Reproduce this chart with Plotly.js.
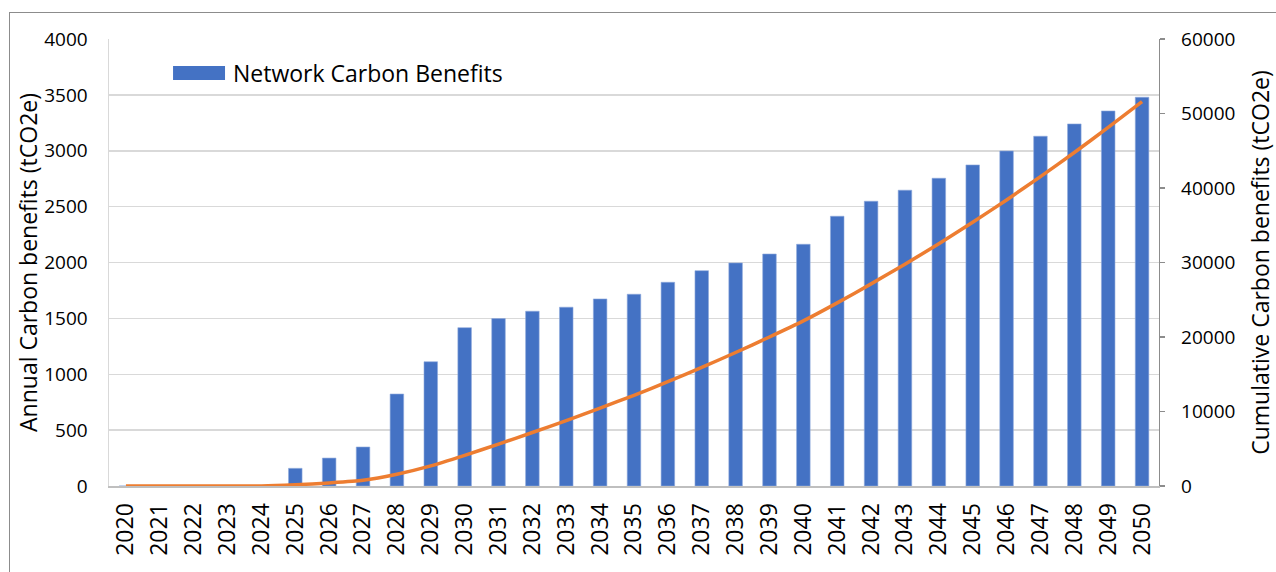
<!DOCTYPE html>
<html>
<head>
<meta charset="utf-8">
<script src="https://cdn.plot.ly/plotly-3.0.1.min.js"></script>
<style>
  html, body { margin: 0; padding: 0; background: #fff; overflow: hidden; }
  #chart { position: absolute; left: 0; top: 0; width: 1276px; height: 572px; }
  #frame { position: absolute; left: 9px; top: 12px; width: 1400px; height: 700px; border: 1px solid #8c8c8c; pointer-events: none; }
</style>
</head>
<body>
<div id="chart"></div>
<div id="frame"></div>
<script>
const years = ['2020','2021','2022','2023','2024','2025','2026','2027','2028','2029','2030',
  '2031','2032','2033','2034','2035','2036','2037','2038','2039','2040',
  '2041','2042','2043','2044','2045','2046','2047','2048','2049','2050'];
const annualBenefits = [0,0,0,0,0,158,250,349,823,1112,1417,
  1498,1564,1600,1674,1716,1823,1927,1996,2076,2163,
  2414,2548,2647,2754,2873,2998,3130,3240,3356,3479];
const cumulativeBenefits = [0,0,0,0,0,160,410,760,1580,2700,4120,
  5620,7180,8780,10460,12170,14000,15920,17920,20000,22160,
  24580,27130,29780,32530,35400,38400,41530,44770,48130,51600];
const seriesName = 'Network Carbon Benefits';
const leftTitle = 'Annual Carbon benefits (tCO2e)';
const rightTitle = 'Cumulative Carbon benefits (tCO2e)';

const FONT = 'Open Sans, Noto Sans, sans-serif';

const traces = [
  {
    type: 'bar', x: years, y: annualBenefits, name: seriesName,
    marker: { color: '#4472C4', line: { color: '#8fa9dc', width: 0.6 } },
    yaxis: 'y', showlegend: false, hoverinfo: 'x+y'
  },
  {
    type: 'scatter', mode: 'lines', x: years, y: cumulativeBenefits, name: 'Cumulative',
    line: { color: '#ED7D31', width: 3.5, shape: 'spline', smoothing: 0.6 },
    yaxis: 'y2', showlegend: false
  }
];

const layout = {
  width: 1276, height: 572,
  margin: { l: 109, r: 117, t: 39, b: 86 },
  paper_bgcolor: 'rgba(0,0,0,0)', plot_bgcolor: '#fff',
  font: { family: FONT, color: '#000', size: 16 },
  bargap: 0.6,
  showlegend: false,
  xaxis: {
    type: 'category', tickangle: -90,
    tickfont: { family: FONT, size: 23, color: '#000' },
    showgrid: false, showline: true, linecolor: '#bfbfbf', linewidth: 2,
    ticks: 'outside', ticklen: 6, tickcolor: 'rgba(0,0,0,0)',
    zeroline: false, fixedrange: true, automargin: false
  },
  yaxis: {
    range: [0, 4000], dtick: 500, tick0: 0,
    tickfont: { family: FONT, size: 19, color: '#000' },
    showgrid: true, gridcolor: '#d9d9d9', gridwidth: 1.5,
    showline: true, linecolor: '#d9d9d9', linewidth: 1.5,
    ticks: 'outside', ticklen: 16, tickcolor: 'rgba(0,0,0,0)',
    zeroline: false, automargin: false,
    title: { text: leftTitle, font: { family: FONT, size: 23, color: '#000' }, standoff: 0 }
  },
  yaxis2: {
    overlaying: 'y', side: 'right',
    range: [0, 60000], dtick: 10000, tick0: 0, tickformat: 'd',
    tickfont: { family: FONT, size: 19, color: '#000' },
    showgrid: false, showline: true, linecolor: '#8c8c8c', linewidth: 1.3,
    ticks: 'outside', ticklen: 5, tickcolor: '#8c8c8c', tickwidth: 1.3,
    ticklabelstandoff: 12,
    zeroline: false, automargin: false,
    title: { text: rightTitle, font: { family: FONT, size: 23, color: '#000' }, standoff: 19 }
  },
  shapes: [
    { type: 'rect', xref: 'paper', yref: 'paper', x0: 0.061, x1: 0.1105, y0: 0.908, y1: 0.9396,
      fillcolor: '#4472C4', line: { width: 0 } }
  ],
  annotations: [
    { xref: 'paper', yref: 'paper', x: 0.1162, y: 0.924, xanchor: 'left', yanchor: 'middle',
      text: seriesName, showarrow: false, font: { family: FONT, size: 23, color: '#000' } }
  ]
};

Plotly.newPlot('chart', traces, layout, { displayModeBar: false, staticPlot: true });
</script>
</body>
</html>
